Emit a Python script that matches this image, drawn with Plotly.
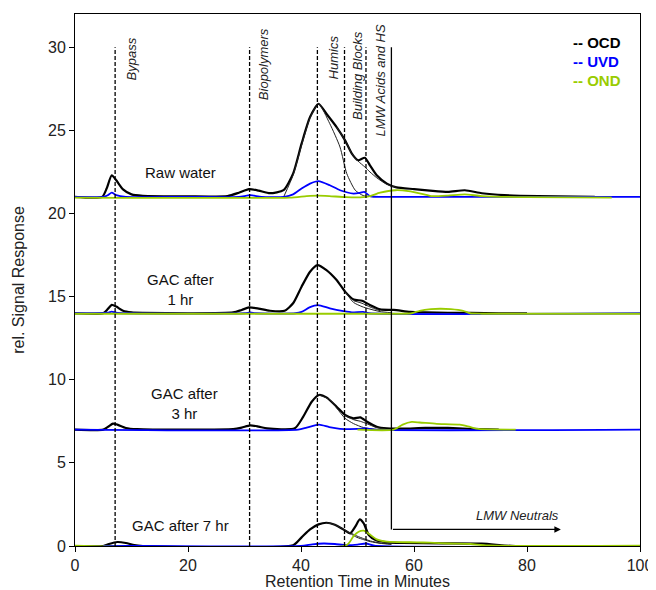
import plotly.graph_objects as go

# ---------------- data ----------------
# Raw water (baseline offset 21)
RAW_OCD_X = [0, 4.8, 5.6, 6.5, 7.3, 8.5, 10, 12, 20, 27, 29, 30.8, 32.5, 34.5, 36.9, 38.6, 40.1, 41.6, 43.1, 44.5, 46.3, 47.8, 49.0, 50.1, 51.3, 52.2, 53.4, 55.2, 56.9, 60, 62.8, 66, 69, 72, 76, 82, 92]
RAW_OCD_Y = [21.0, 21.0, 21.5, 22.3, 22.0, 21.45, 21.15, 21.06, 21.03, 21.05, 21.25, 21.47, 21.38, 21.22, 21.4, 22.4, 24.2, 25.8, 26.6, 26.0, 25.2, 24.4, 23.6, 23.2, 23.35, 22.9, 22.3, 21.8, 21.57, 21.47, 21.38, 21.3, 21.4, 21.22, 21.1, 21.04, 21.0]
RAW_FIT1_X = [37, 38.6, 40.1, 41.6, 43.1, 45.1, 46.9, 48.1, 49.6, 51, 53]
RAW_FIT1_Y = [21.05, 22.3, 24.1, 25.75, 26.6, 25.4, 24.0, 22.4, 21.4, 21.08, 21.0]
RAW_FIT2_X = [46.3, 47.8, 49.0, 50.1, 51.3, 52.2, 53.4, 55.2, 56.9]
RAW_FIT2_Y = [25.2, 24.4, 23.6, 23.15, 22.8, 22.5, 22.15, 21.75, 21.57]
RAW_UVD_X = [0, 5, 5.8, 6.5, 7.3, 9, 20, 29, 31, 33, 37, 38.6, 40.1, 41.6, 43.1, 45.1, 46.9, 49.3, 50.5, 51.2, 52.2, 54, 60, 100]
RAW_UVD_Y = [21.0, 21.0, 21.1, 21.25, 21.1, 21.0, 21.0, 21.0, 21.1, 21.0, 21.0, 21.15, 21.5, 21.8, 21.95, 21.7, 21.4, 21.2, 21.25, 21.3, 21.05, 21.0, 21.0, 21.0]
RAW_OND_X = [0, 38, 41, 43, 45, 48, 51, 52.2, 54, 56.7, 59, 61.8, 63, 66, 69, 72, 80, 95]
RAW_OND_Y = [20.96, 20.96, 21.05, 21.08, 21.05, 20.98, 20.98, 21.05, 21.25, 21.4, 21.35, 21.15, 21.05, 21.08, 21.15, 21.05, 20.98, 20.96]

# GAC after 1 hr (baseline offset 14)
H1_OCD_X = [0, 5, 5.8, 6.5, 7.3, 8.5, 10, 12, 20, 28, 29.5, 30.8, 32.5, 34.5, 37.1, 38.6, 40.1, 41.6, 42.9, 44.5, 46.3, 47.8, 49.3, 50.8, 52.2, 54, 56.4, 59.3, 62, 66, 70, 75, 80]
H1_OCD_Y = [14.0, 14.0, 14.25, 14.5, 14.4, 14.15, 14.05, 14.02, 14.0, 14.05, 14.2, 14.35, 14.28, 14.15, 14.15, 14.6, 15.6, 16.5, 16.9, 16.6, 16.0, 15.3, 14.83, 14.75, 14.5, 14.23, 14.2, 14.08, 14.05, 14.03, 14.02, 14.0, 14.0]
H1_FIT1_X = [47.8, 49.3, 50.8, 52.2, 54, 56]
H1_FIT1_Y = [15.3, 14.65, 14.4, 14.25, 14.1, 14.03]
H1_FIT2_X = [49.3, 50.8, 52.2, 54]
H1_FIT2_Y = [14.75, 14.6, 14.38, 14.15]
H1_UVD_X = [0, 5.8, 6.5, 7.3, 9, 30, 31, 32, 39, 40.1, 41.5, 43, 45.1, 47.5, 49, 51, 52, 100]
H1_UVD_Y = [14.0, 14.03, 14.1, 14.03, 14.0, 14.0, 14.05, 14.0, 14.0, 14.08, 14.35, 14.49, 14.3, 14.13, 14.05, 14.08, 14.0, 14.0]
H1_OND_X = [0, 58, 59.6, 61, 63, 64.6, 66.5, 68.7, 69.9, 72, 100]
H1_OND_Y = [13.97, 13.97, 14.0, 14.15, 14.25, 14.27, 14.25, 14.15, 14.0, 13.97, 13.97]

# GAC after 3 hr (baseline offset 7)
H3_OCD_X = [0, 5, 6, 6.7, 7.5, 9, 11, 20, 28, 29.5, 31, 32.5, 34, 38.9, 40.4, 41.9, 43.2, 44.5, 46.3, 47.8, 49.3, 50.5, 51.7, 53.4, 55.2, 58, 62, 66, 70, 75]
H3_OCD_Y = [7.0, 7.0, 7.2, 7.36, 7.3, 7.1, 7.03, 7.0, 7.03, 7.12, 7.26, 7.18, 7.07, 7.08, 7.78, 8.68, 9.08, 8.94, 8.38, 7.88, 7.68, 7.74, 7.47, 7.17, 7.07, 7.06, 7.1, 7.1, 7.05, 7.0]
H3_FIT1_X = [43.2, 45.1, 46.3, 47.8, 49.3, 51.1, 53, 55]
H3_FIT1_Y = [9.08, 8.8, 8.3, 7.68, 7.36, 7.12, 7.03, 7.0]
H3_FIT2_X = [47.8, 49.3, 50.5, 51.7, 53.4, 55]
H3_FIT2_Y = [7.85, 7.6, 7.5, 7.35, 7.12, 7.03]
H3_UVD_X = [0, 39.5, 41, 43.2, 45, 46.9, 50, 51.5, 53, 100]
H3_UVD_Y = [7.0, 7.0, 7.12, 7.3, 7.15, 7.05, 7.04, 7.08, 7.0, 7.0]
H3_OND_X = [50, 56.4, 58, 59.6, 61, 64, 68.1, 69.9, 71.4, 78]
H3_OND_Y = [7.0, 7.0, 7.3, 7.46, 7.43, 7.35, 7.3, 7.16, 7.04, 7.0]

# GAC after 7 hr (baseline offset 0)
H7_OCD_X = [0, 5, 6, 7.5, 9, 10.5, 12, 38.6, 40.1, 41.6, 43.1, 44.5, 46, 47.5, 48.7, 49.6, 50.4, 51.1, 52, 53.2, 55.2, 58, 65, 72, 76, 78]
H7_OCD_Y = [0.0, 0.0, 0.12, 0.24, 0.18, 0.05, 0.0, 0.05, 0.52, 1.0, 1.3, 1.4, 1.28, 1.0, 0.76, 1.16, 1.6, 1.36, 0.66, 0.36, 0.22, 0.18, 0.16, 0.14, 0.03, 0.0]
H7_FIT1_X = [44.5, 46, 47.5, 48.7, 49.9, 51.1, 52.3, 54, 56]
H7_FIT1_Y = [1.4, 1.28, 1.0, 0.75, 0.52, 0.38, 0.26, 0.16, 0.1]
H7_FIT2_X = [47.5, 48.7, 49.9, 51.1, 52.3, 54, 56]
H7_FIT2_Y = [1.0, 0.8, 0.6, 0.44, 0.3, 0.18, 0.12]
H7_UVD_X = [5, 12, 40, 42, 44, 46, 48, 50, 51.5, 53, 100]
H7_UVD_Y = [0, 0, 0, 0.1, 0.15, 0.12, 0.05, 0.08, 0.15, 0.02, 0]
H7_OND_X = [0, 48.1, 49.3, 50.2, 51.1, 52.3, 53.4, 55.2, 60.5, 62.8, 66, 70, 73, 100]
H7_OND_Y = [0.02, 0.06, 0.6, 0.86, 0.92, 0.66, 0.4, 0.26, 0.22, 0.2, 0.15, 0.12, 0.03, 0.02]

# fraction boundaries (retention time, min) and labels
FRACTION_X = [7.1, 30.9, 42.9, 47.7, 51.5]
FRACTION_NAMES = ["Bypass", "Biopolymers", "Humics", "Building Blocks", "LMW Acids and HS"]
LMW_NEUTRAL_X = 56
SAMPLE_NAMES = ["Raw water", "GAC after<br>1 hr", "GAC after<br>3 hr", "GAC after 7 hr"]
DETECTORS = ["OCD", "UVD", "OND"]
X_TICKS = [0, 20, 40, 60, 80, 100]
Y_TICKS = [0, 5, 10, 15, 20, 25, 30]

# ---------------- figure ----------------
FONT = "Liberation Sans, Arial, sans-serif"
BLACK = "#000000"
BLUE = "#0000ff"
GREEN = "#99cc00"

fig = go.Figure()

samples = [
    (RAW_OCD_X, RAW_OCD_Y, RAW_FIT1_X, RAW_FIT1_Y, RAW_FIT2_X, RAW_FIT2_Y, RAW_UVD_X, RAW_UVD_Y, RAW_OND_X, RAW_OND_Y),
    (H1_OCD_X, H1_OCD_Y, H1_FIT1_X, H1_FIT1_Y, H1_FIT2_X, H1_FIT2_Y, H1_UVD_X, H1_UVD_Y, H1_OND_X, H1_OND_Y),
    (H3_OCD_X, H3_OCD_Y, H3_FIT1_X, H3_FIT1_Y, H3_FIT2_X, H3_FIT2_Y, H3_UVD_X, H3_UVD_Y, H3_OND_X, H3_OND_Y),
    (H7_OCD_X, H7_OCD_Y, H7_FIT1_X, H7_FIT1_Y, H7_FIT2_X, H7_FIT2_Y, H7_UVD_X, H7_UVD_Y, H7_OND_X, H7_OND_Y),
]

for (ox, oy, f1x, f1y, f2x, f2y, ux, uy, nx, ny) in samples:
    fig.add_trace(go.Scatter(x=ox, y=oy, mode="lines", line=dict(color=BLACK, width=2.2, shape="spline", smoothing=0.6), hoverinfo="skip"))
    fig.add_trace(go.Scatter(x=f1x, y=f1y, mode="lines", line=dict(color="#222222", width=1, shape="spline", smoothing=0.6), hoverinfo="skip"))
    fig.add_trace(go.Scatter(x=f2x, y=f2y, mode="lines", line=dict(color="#222222", width=1, shape="spline", smoothing=0.6), hoverinfo="skip"))
    fig.add_trace(go.Scatter(x=ux, y=uy, mode="lines", line=dict(color=BLUE, width=1.8, shape="spline", smoothing=0.6), hoverinfo="skip"))
    fig.add_trace(go.Scatter(x=nx, y=ny, mode="lines", line=dict(color=GREEN, width=1.8, shape="spline", smoothing=0.6), hoverinfo="skip"))

# dashed fraction boundaries
for fx in FRACTION_X:
    fig.add_shape(type="line", x0=fx, x1=fx, y0=0, y1=30, xref="x", yref="y",
                  line=dict(color=BLACK, width=1.3, dash="4px,2px"))

# LMW neutrals bracket
fig.add_shape(type="line", x0=LMW_NEUTRAL_X, x1=LMW_NEUTRAL_X, y0=30, y1=1, xref="x", yref="y",
              line=dict(color=BLACK, width=1.3))
fig.add_annotation(x=86, y=1, ax=LMW_NEUTRAL_X, ay=1, xref="x", yref="y", axref="x", ayref="y",
                   text="", showarrow=True, arrowhead=2, arrowsize=1.0, arrowwidth=1.3, arrowcolor=BLACK)
fig.add_annotation(x=86, y=1.25, xref="x", yref="y", text="<i>LMW Neutrals</i>", showarrow=False,
                   xanchor="right", yanchor="bottom", font=dict(family=FONT, size=13, color="#222222"))

# fraction labels (rotated, italic)
label_pos = [(10.0, 29.3), (33.5, 29.0), (45.7, 29.4), (50.0, 28.3), (54.0, 28.0)]
for name, (lx, ly) in zip(FRACTION_NAMES, label_pos):
    fig.add_annotation(x=lx, y=ly, xref="x", yref="y", text="<i>" + name + "</i>", showarrow=False,
                       textangle=-90, font=dict(family=FONT, size=13, color="#222222"))

# sample labels
sample_pos = [(18.6, 22.45), (18.7, 15.4), (19.4, 8.6), (18.7, 1.21)]
for name, (sx, sy) in zip(SAMPLE_NAMES, sample_pos):
    fig.add_annotation(x=sx, y=sy, xref="x", yref="y", text=name, showarrow=False,
                       font=dict(family=FONT, size=15, color="#111111"))

# detector key
key_colors = [BLACK, BLUE, GREEN]
key_y = [30.27, 29.13, 28.0]
for name, c, ky in zip(DETECTORS, key_colors, key_y):
    fig.add_annotation(x=87.8, y=ky, xref="x", yref="y", text="<b>-- " + name + "</b>", showarrow=False,
                       xanchor="left", font=dict(family=FONT, size=15, color=c))

# the page body has an 8px margin, so the figure is 8px smaller in each direction
fig.update_layout(
    width=648, height=582,
    margin=dict(l=67, r=16, t=6, b=44, autoexpand=False),
    paper_bgcolor="white", plot_bgcolor="white",
    showlegend=False,
    font=dict(family=FONT, size=16, color="#222222"),
)
fig.update_xaxes(range=[0, 100], tickvals=X_TICKS, ticks="outside", ticklen=5, tickcolor=BLACK,
                 showline=True, linecolor=BLACK, linewidth=1, mirror=True, showgrid=False, zeroline=False,
                 automargin=False,
                 title=dict(text="Retention Time in Minutes", standoff=1, font=dict(size=16)),
                 tickfont=dict(size=16))
fig.update_yaxes(range=[0, 32], tickvals=Y_TICKS, ticks="outside", ticklen=5, tickcolor=BLACK,
                 showline=True, linecolor=BLACK, linewidth=1, mirror=True, showgrid=False, zeroline=False,
                 automargin=False,
                 title=dict(text="rel. Signal Response", standoff=19, font=dict(size=16)),
                 tickfont=dict(size=16))

fig.write_html("out.html")
